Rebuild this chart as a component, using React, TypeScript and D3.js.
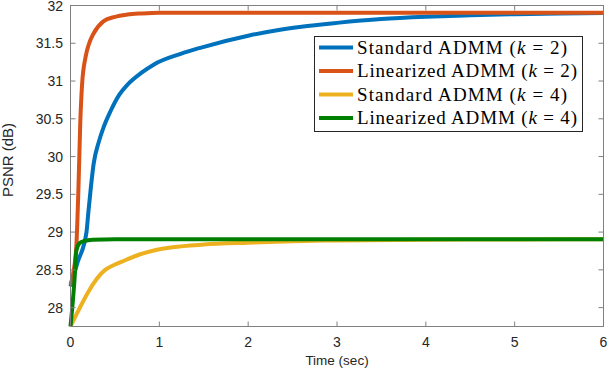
import React from "react";
import * as d3 from "d3";

// PSNR vs time
const stdK2Time = [0, 0.08, 0.18, 0.2, 0.23, 0.26, 0.32, 0.37, 0.45, 0.55, 0.64, 0.8, 0.94, 1.24, 1.46, 2.0, 2.36, 2.6, 3.0, 3.5, 4.0, 4.5, 5.0, 5.5, 6.0];
const stdK2Psnr = [28.28, 28.6, 29.0, 29.25, 29.6, 29.9, 30.2, 30.38, 30.6, 30.82, 30.95, 31.11, 31.22, 31.36, 31.44, 31.6, 31.68, 31.72, 31.77, 31.82, 31.85, 31.87, 31.885, 31.893, 31.9];

const linK2Time = [0, 0.03, 0.065, 0.09, 0.11, 0.13, 0.17, 0.21, 0.26, 0.37, 0.5, 0.64, 0.8, 1.0, 2.0, 3.0, 4.0, 5.0, 6.0];
const linK2Psnr = [28.3, 28.45, 28.8, 29.6, 30.45, 30.95, 31.32, 31.5, 31.63, 31.79, 31.85, 31.88, 31.895, 31.905, 31.905, 31.905, 31.905, 31.905, 31.905];

const stdK4Time = [0, 0.39, 0.5, 0.58, 0.77, 0.95, 1.15, 1.5, 2.0, 2.5, 3.0, 4.0, 5.0, 6.0];
const stdK4Psnr = [27.75, 28.5, 28.57, 28.61, 28.7, 28.76, 28.8, 28.835, 28.86, 28.88, 28.89, 28.9, 28.903, 28.905];

const linK4Time = [0, 0.02, 0.045, 0.065, 0.1, 0.15, 0.25, 0.5, 1, 2, 3, 4, 5, 6];
const linK4Psnr = [27.75, 28.0, 28.37, 28.75, 28.85, 28.88, 28.9, 28.905, 28.905, 28.905, 28.905, 28.905, 28.905, 28.905];

const xTicks = [0, 1, 2, 3, 4, 5, 6];
const yTicks = [28, 28.5, 29, 29.5, 30, 30.5, 31, 31.5, 32];

const series = [
  { name: "Standard ADMM", k: 2, color: "#0072BD", t: stdK2Time, v: stdK2Psnr },
  { name: "Linearized ADMM", k: 2, color: "#D95319", t: linK2Time, v: linK2Psnr },
  { name: "Standard ADMM", k: 4, color: "#EDB120", t: stdK4Time, v: stdK4Psnr },
  { name: "Linearized ADMM", k: 4, color: "#008000", t: linK4Time, v: linK4Psnr },
];

const W = 608;
const H = 372;
const left = 70.5;
const right = 603.5;
const top = 5.5;
const bottom = 326.5;
const axisColor = "#808080";
const textColor = "#262626";
const sans = "'Liberation Sans', Arial, sans-serif";
const serif = "'Liberation Serif', 'Times New Roman', serif";

export default function App() {
  const x = d3.scaleLinear().domain([0, 6]).range([left, right]);
  const y = d3.scaleLinear().domain([27.75, 32]).range([bottom, top]);

  const line = d3
    .line<[number, number]>()
    .x((d) => x(d[0]))
    .y((d) => y(d[1]))
    .curve(d3.curveMonotoneX);

  const tickLen = 5;

  return (
    <svg
      width={W}
      height={H}
      style={{ position: "absolute", left: 0, top: 0, background: "#fff" }}
    >
      <rect x={0} y={0} width={W} height={H} fill="#fff" />

      {series.map((s, i) => (
        <path
          key={i}
          d={line(s.t.map((t, j) => [t, s.v[j]] as [number, number])) || ""}
          fill="none"
          stroke={s.color}
          strokeWidth={4}
          strokeLinejoin="round"
        />
      ))}

      {/* frame */}
      <rect
        x={left}
        y={top}
        width={right - left}
        height={bottom - top}
        fill="none"
        stroke={axisColor}
        strokeWidth={1}
      />

      {/* x ticks */}
      {xTicks.map((t) => (
        <g key={"x" + t}>
          <line x1={x(t)} x2={x(t)} y1={bottom} y2={bottom - tickLen} stroke={axisColor} />
          <line x1={x(t)} x2={x(t)} y1={top} y2={top + tickLen} stroke={axisColor} />
          <text
            x={x(t)}
            y={347}
            textAnchor="middle"
            fontFamily={sans}
            fontSize={14}
            fill={textColor}
          >
            {t}
          </text>
        </g>
      ))}

      {/* y ticks */}
      {yTicks.map((v) => (
        <g key={"y" + v}>
          <line x1={left} x2={left + tickLen} y1={y(v)} y2={y(v)} stroke={axisColor} />
          <line x1={right} x2={right - tickLen} y1={y(v)} y2={y(v)} stroke={axisColor} />
          <text
            x={63}
            y={y(v) + 5}
            textAnchor="end"
            fontFamily={sans}
            fontSize={14}
            fill={textColor}
          >
            {v}
          </text>
        </g>
      ))}

      <text
        x={337}
        y={365}
        textAnchor="middle"
        fontFamily={sans}
        fontSize={13.5}
        fill={textColor}
      >
        Time (sec)
      </text>
      <text
        transform="translate(13, 160) rotate(-90)"
        textAnchor="middle"
        fontFamily={sans}
        fontSize={15}
        fill={textColor}
      >
        PSNR (dB)
      </text>

      {/* legend */}
      <g>
        <rect x={314.5} y={36.5} width={268} height={95} fill="#fff" stroke="#262626" strokeWidth={1} />
        {series.map((s, i) => {
          const ry = 47.5 + i * 23.5;
          return (
            <g key={"l" + i}>
              <line x1={319} x2={353} y1={ry} y2={ry} stroke={s.color} strokeWidth={4} />
              <text
                x={357}
                y={ry + 6}
                fontFamily={serif}
                fontSize={19}
                fill="#000"
                textLength={s.name.startsWith("Standard") ? 210 : 220}
                lengthAdjust="spacing"
              >
                {s.name} (<tspan fontStyle="italic">k</tspan> = {s.k})
              </text>
            </g>
          );
        })}
      </g>
    </svg>
  );
}
